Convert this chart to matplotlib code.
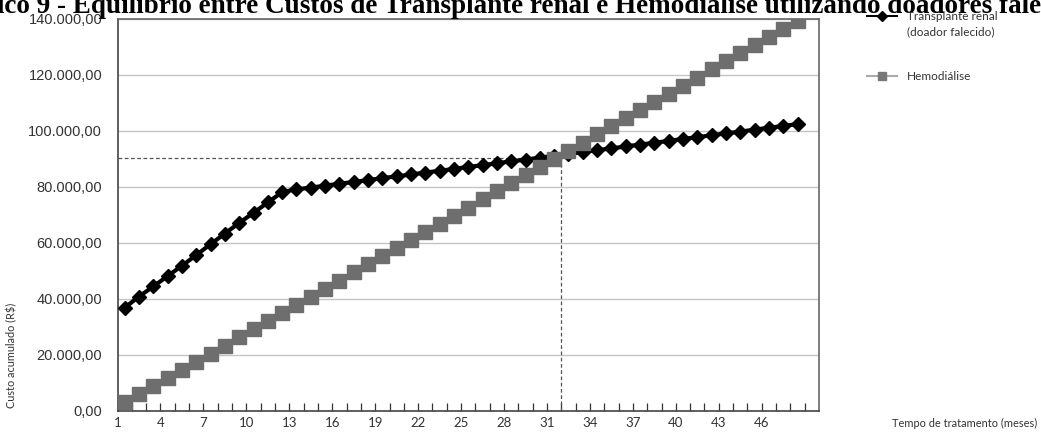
import matplotlib.pyplot as plt
from matplotlib.lines import Line2D
from matplotlib.ticker import FuncFormatter, MultipleLocator

# months of treatment and cumulative cost (R$ thousands)
meses = list(range(1, 49))
transplante = [36.7, 40.7, 44.3, 48.0, 51.7, 55.5, 59.4, 63.2, 67.0, 70.6, 74.3, 78.0,
               79.0, 79.6, 80.3, 81.0, 81.6, 82.3, 83.0, 83.6, 84.3, 85.0,
               85.6, 86.3, 87.0, 87.6, 88.3, 89.0, 89.6, 90.3, 91.0, 91.6,
               92.3, 93.0, 93.6, 94.3, 95.0, 95.6, 96.3, 97.0, 97.6, 98.3,
               99.0, 99.6, 100.3, 101.0, 101.6, 102.3]
hemodialise = [2.9, 5.8, 8.7, 11.6, 14.5, 17.4, 20.3, 23.2, 26.1, 29.0, 31.9, 34.8,
               37.7, 40.6, 43.5, 46.4, 49.3, 52.2, 55.1, 58.0, 60.9, 63.8,
               66.7, 69.6, 72.5, 75.4, 78.3, 81.2, 84.1, 87.0, 89.9, 92.8,
               95.7, 98.6, 101.5, 104.4, 107.3, 110.2, 113.1, 116.0, 118.9, 121.8,
               124.7, 127.6, 130.5, 133.4, 136.3, 139.2]
tick_meses = list(range(1, 47, 3))

# equilibrium point
eq_mes = 31.5
eq_custo = 90.1

sans = ['Lato', 'DejaVu Sans']
num_font = ['Liberation Sans', 'DejaVu Sans']
W, H = 1041, 437

fig = plt.figure(figsize=(W / 100, H / 100), dpi=100)
ax = fig.add_axes([117.5 / W, 26.5 / H, 701.5 / W, 392 / H])

transp = [v * 1000 for v in transplante]
hemo = [v * 1000 for v in hemodialise]

ax.plot(meses, transp, color='black', lw=3, marker='D', ms=7.5, zorder=3)
ax.plot(meses, hemo, color='#6e6e6e', lw=3, marker='s', ms=10.5, zorder=4)

# dashed guides to the break-even point
ax.plot([0.5, eq_mes], [eq_custo * 1000, eq_custo * 1000], color='#555555',
        lw=0.9, ls=(0, (3, 2)), zorder=2)
ax.plot([eq_mes, eq_mes], [0, eq_custo * 1000], color='#555555',
        lw=0.9, ls=(0, (3, 2)), zorder=2)

ax.set_xlim(0.5, 49.5)
ax.set_ylim(0, 140000)
ax.yaxis.set_major_locator(MultipleLocator(20000))
ax.yaxis.set_major_formatter(FuncFormatter(
    lambda v, p: f"{v:,.2f}".replace(',', 'X').replace('.', ',').replace('X', '.')))
ax.grid(axis='y', color='#c4c4c4', lw=1)
ax.set_axisbelow(True)

# category labels sit on the category boundaries
ax.set_xticks([m - 0.5 for m in tick_meses])
ax.set_xticklabels([str(m) for m in tick_meses], family=sans, fontsize=9.5, color='#333333')
ax.set_xticks([m + 0.5 for m in range(1, 49)], minor=True)
ax.tick_params(axis='x', which='both', direction='in', length=6, width=0.9,
               color='#333333', pad=5)
ax.tick_params(axis='y', length=0, pad=11, labelsize=10.5, labelcolor='#333333')
for lab in ax.get_yticklabels():
    lab.set_family(num_font)

for side in ['left', 'bottom']:
    ax.spines[side].set_color('#444444')
    ax.spines[side].set_linewidth(1.2)
for side in ['top', 'right']:
    ax.spines[side].set_color('#666666')
    ax.spines[side].set_linewidth(1.2)

fig.text(12 / W, 1 - 355 / H, 'Custo acumulado (R$)', rotation=90, ha='center', va='center',
         family=sans, fontsize=7.8, color='#333333')
fig.text(1037 / W, 1 - 423 / H, 'Tempo de tratamento (meses)', ha='right', va='center',
         family=sans, fontsize=7.9, color='#333333')

fig.text(0.5, 1 - 13 / H,
         'Gráfico 9 - Equilíbrio entre Custos de Transplante renal e Hemodiálise utilizando doadores falecidos',
         ha='center', va='baseline', family=['Liberation Serif', 'DejaVu Serif'],
         fontweight='bold', fontsize=19.5)

# legend drawn in figure pixels
def legend_entry(y, color, marker, mcolor, label):
    yf = 1 - y / H
    fig.add_artist(Line2D([867 / W, 897 / W], [yf, yf], color=color, lw=1.5,
                          transform=fig.transFigure))
    fig.add_artist(Line2D([882 / W], [yf], marker=marker, ms=5.5, color=mcolor,
                          transform=fig.transFigure))
    fig.text(907 / W, yf, label, ha='left', va='top' if '\n' in label else 'center',
             family=sans, fontsize=8.5, color='#333333', linespacing=1.25)

legend_entry(16, 'black', 'D', 'black', '')
fig.text(907 / W, 1 - 16 / H, 'Transplante renal', ha='left', va='center',
         family=sans, fontsize=8.5, color='#333333')
fig.text(907 / W, 1 - 32 / H, '(doador falecido)', ha='left', va='center',
         family=sans, fontsize=8.5, color='#333333')
legend_entry(76, '#aaaaaa', 's', '#777777', 'Hemodiálise')

fig.savefig('out.png', dpi=100)
